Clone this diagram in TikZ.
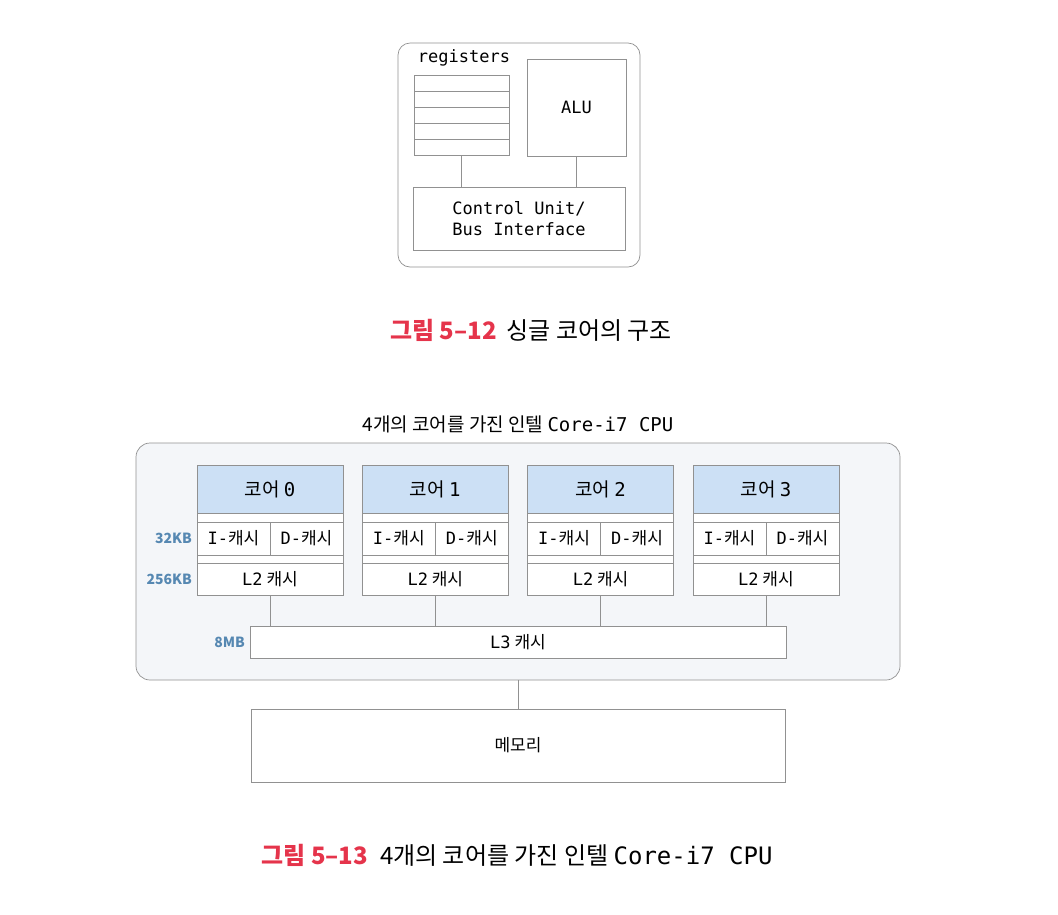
\documentclass[tikz,border=0pt]{standalone}
\usepackage{fontspec}
\setmainfont{Noto Sans CJK KR}
\setmonofont{DejaVu Sans Mono}
\usetikzlibrary{positioning}
\definecolor{capred}{RGB}{229,52,75}
\definecolor{coreblue}{RGB}{204,224,245}
\definecolor{sizeblue}{RGB}{86,136,178}
\definecolor{cpubg}{RGB}{244,246,249}
\definecolor{linegray}{RGB}{145,145,145}
\newcommand\capnum[1]{{\color{capred}\bfseries #1}}
\begin{document}
\begin{tikzpicture}[x=1pt,y=-1pt,
    box/.style={draw=linegray,line width=0.7pt,fill=white,inner sep=0pt,outer sep=0pt},
    outerbox/.style={box,rounded corners=12pt},
    link/.style={draw=linegray,line width=0.7pt},
    monotext/.style={font=\fontsize{17}{21}\selectfont\ttfamily},
    cachetext/.style={font=\fontsize{17}{21}\selectfont},
    sizelbl/.style={text=sizeblue,font=\fontsize{14}{16}\selectfont\bfseries,anchor=east,inner sep=0pt},
    captxt/.style={font=\fontsize{24}{28}\selectfont}]
    \useasboundingbox (0,0) rectangle (1058,914);
    % single core
    \node[outerbox,minimum width=242,minimum height=224] (single) at (519,155) {};
    \node[monotext] (reglbl) at (464,58) {registers};
    \foreach \i in {0,...,4}
        \node[box,minimum width=95,minimum height=16] (reg\i) at (461.5,83+16*\i) {};
    \node[box,monotext,minimum width=99,minimum height=97] (alu) at (576.5,107.5) {ALU};
    \node[box,monotext,minimum width=212,minimum height=63,align=center] (cu) at (519,218.5)
        {Control Unit/\\Bus Interface};
    \draw[link] (reg4.south) -- (reg4.south |- cu.north);
    \draw[link] (alu.south) -- (alu.south |- cu.north);
    \node[captxt] (cap1) at (531,330) {\capnum{그림 5–12}\hspace{10pt}싱글 코어의 구조};
    % quad core
    \node[font=\fontsize{19}{23}\selectfont] (title) at (518,424) {4개의 코어를 가진 인텔 \texttt{Core-i7 CPU}};
    \node[outerbox,fill=cpubg,rounded corners=14pt,minimum width=764,minimum height=237] (cpu) at (518,561.5) {};
    \node[box,cachetext,minimum width=536,minimum height=32] (l3) at (518,642) {\texttt{L3} 캐시};
    \foreach \i in {0,...,3} {
        \pgfmathsetmacro\cx{270+165.3*\i}
        \node[box,fill=coreblue,minimum width=146,minimum height=48,font=\fontsize{19}{22}\selectfont]
            (head\i) at (\cx,489) {코어 \texttt{\i}};
        \node[box,minimum width=146,minimum height=9] (gapa\i) at (\cx,517.5) {};
        \node[box,cachetext,minimum width=73,minimum height=33] (ic\i) at (\cx-36.5,538.5) {\texttt{I-}캐시};
        \node[box,cachetext,minimum width=73,minimum height=33] (dc\i) at (\cx+36.5,538.5) {\texttt{D-}캐시};
        \node[box,minimum width=146,minimum height=8] (gapb\i) at (\cx,559) {};
        \node[box,cachetext,minimum width=146,minimum height=32] (l2\i) at (\cx,579) {\texttt{L2} 캐시};
        \draw[link] (l2\i.south) -- (l2\i.south |- l3.north);
    }
    \node[sizelbl] (kb32) at (192,538.5) {32KB};
    \node[sizelbl] (kb256) at (192,579) {256KB};
    \node[sizelbl] (mb8) at (245,642) {8MB};
    \node[box,cachetext,minimum width=534,minimum height=73] (mem) at (518,745.5) {메모리};
    \draw[link] (cpu.south) -- (mem.north);
    \node[captxt] (cap2) at (517,855) {\capnum{그림 5–13}\hspace{12pt}4개의 코어를 가진 인텔 \texttt{Core-i7 CPU}};
\end{tikzpicture}
\end{document}
